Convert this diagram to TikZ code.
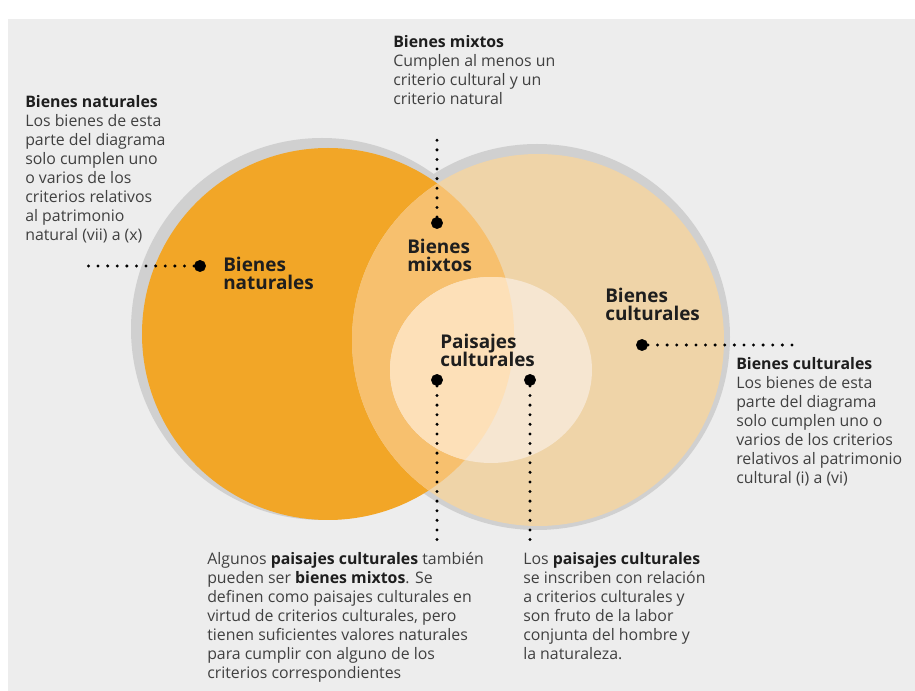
\documentclass[tikz,border=0pt]{standalone}
\usepackage{fontspec}
\setmainfont{Open Sans}
\usepackage{xcolor}
\definecolor{bggrey}{HTML}{EDEDED}
\definecolor{ringgrey}{HTML}{D0D0D0}
\definecolor{natorange}{HTML}{F2A627}
\definecolor{culttan}{HTML}{EFD4A8}
\definecolor{mixorange}{HTML}{F7C06E}
\definecolor{paislight}{HTML}{FDE0B8}
\definecolor{paispale}{HTML}{F6E6D1}
\definecolor{bodygrey}{HTML}{404040}
\definecolor{headgrey}{HTML}{1E1E1E}
\newcommand\tightlines{\lineskiplimit=-6pt\relax}
\newcommand\hd[1]{{\bfseries\color{headgrey}#1}}
\tikzset{
dotnode/.style={circle, draw=black!100,fill=black!100, inner sep=0pt, minimum size= 8.5pt},
dotline/.style={black, line width=2.5pt, line cap=round, dash pattern=on 0pt off 7.2pt},
notetext/.style={anchor=base west, align=left, inner sep=0pt, text=bodygrey, font=\fontsize{11.9}{14.3}\selectfont},
zonetext/.style={anchor=base west, align=left, inner sep=0pt, text=headgrey, font=\bfseries\fontsize{14.2}{13.8}\selectfont\tightlines},
}

\begin{document}
\begin{tikzpicture}[x=0.75pt,y=-0.75pt]
\useasboundingbox (0,0) rectangle (915,691);
\fill[white] (0,0) rectangle (915,691);
\fill[bggrey] (8,19) rectangle (915,691);

\fill[ringgrey] (322,329) circle (191);
\fill[ringgrey] (537,337) circle (193);
\fill[natorange] (328,334) circle (186);
\fill[culttan] (538,340) circle (186);
\begin{scope}
\clip (328,334) circle (186);
\fill[mixorange] (538,340) circle (186);
\end{scope}
\fill[paispale] (491,370) ellipse (101 and 93);
\begin{scope}
\clip (328,334) circle (186);
\fill[paislight] (491,370) ellipse (101 and 93);
\end{scope}

\node[zonetext] at (223,290) (zonenat) {Bienes\\naturales};
\node[zonetext] at (407,272) (zonemix) {Bienes\\mixtos};
\node[zonetext] at (605,321) (zonecult) {Bienes\\culturales};
\node[zonetext] at (440,367) (zonepais) {Paisajes\\culturales};

\node[dotnode] at (200,266) (dotnat) {};
\node[dotnode] at (437,223) (dotmix) {};
\node[dotnode] at (437,380) (dotpaisA) {};
\node[dotnode] at (530,380) (dotpaisB) {};
\node[dotnode] at (642,345) (dotcult) {};
\coordinate (endnat) at (83,266);
\coordinate (endmix) at (437,138);
\coordinate (endpaisA) at (437,547);
\coordinate (endpaisB) at (530,547);
\coordinate (endcult) at (792,345);
\draw[dotline] (dotnat) to (endnat);
\draw[dotline] (dotmix) to (endmix);
\draw[dotline] (dotpaisA) to (endpaisA);
\draw[dotline] (dotpaisB) to (endpaisB);
\draw[dotline] (dotcult) to (endcult);

\node[notetext] at (25,241) (notenat) {\hd{Bienes naturales}\\Los bienes de esta\\parte del diagrama\\solo cumplen uno\\o varios de los\\criterios relativos\\al patrimonio\\natural (vii) a (x)};
\node[notetext] at (393,105) (notemix) {\hd{Bienes mixtos}\\Cumplen al menos un\\criterio cultural y un\\criterio natural};
\node[notetext] at (736,484) (notecult) {\hd{Bienes culturales}\\Los bienes de esta\\parte del diagrama\\solo cumplen uno o\\varios de los criterios\\relativos al patrimonio\\cultural (i) a (vi)};
\node[notetext] at (207,679) (notepaisA) {Algunos \hd{paisajes culturales} también\\pueden ser \hd{bienes mixtos}. Se\\definen como paisajes culturales en\\virtud de criterios culturales, pero\\tienen suficientes valores naturales\\para cumplir con alguno de los\\criterios correspondientes};
\node[notetext] at (523,660) (notepaisB) {Los \hd{paisajes culturales}\\se inscriben con relación\\a criterios culturales y\\son fruto de la labor\\conjunta del hombre y\\la naturaleza.};
\end{tikzpicture}
\end{document}
